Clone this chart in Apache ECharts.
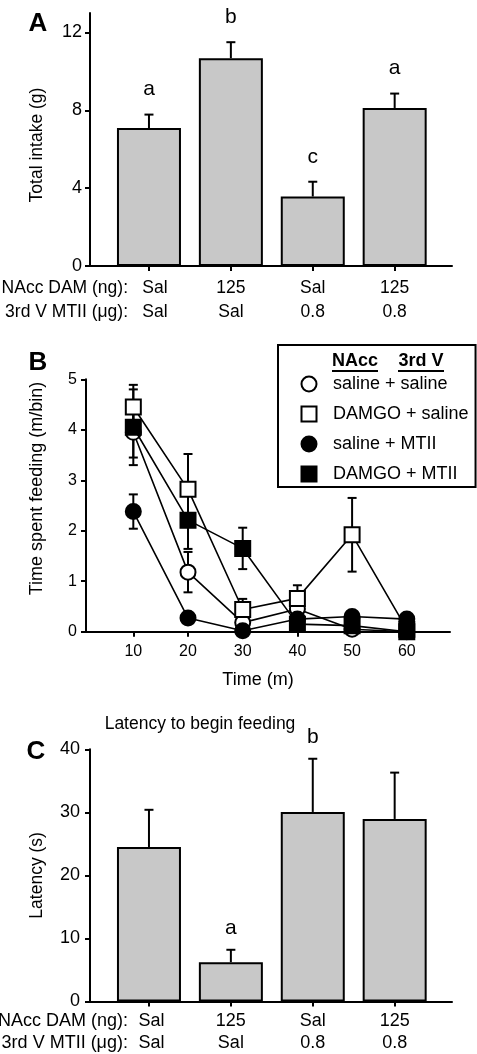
<!DOCTYPE html>
<html><head><meta charset="utf-8">
<script src="https://cdn.jsdelivr.net/npm/echarts@6/dist/echarts.min.js"></script>
<style>html,body{margin:0;padding:0;background:#fff}#c{width:477px;height:1054px}</style>
</head><body><div id="c"></div>
<script>
// ---------- data ----------
const naccLabels = ['Sal', '125', 'Sal', '125'];
const mtiiLabels = ['Sal', 'Sal', '0.8', '0.8'];
const groupPos = [1, 2, 3, 4];

const intakeMean = [7.09, 10.68, 3.57, 8.12];
const intakeSem = [0.69, 0.82, 0.76, 0.74];
const intakeLetters = ['a', 'b', 'c', 'a'];
const intakeTicks = [0, 4, 8, 12];

const timeBins = [10, 20, 30, 40, 50, 60];
const seriesNames = ['saline + saline', 'DAMGO + saline', 'saline + MTII', 'DAMGO + MTII'];
const salSalMean = [3.95, 1.18, 0.18, 0.45, 0.05, 0.00];
const salSalSem  = [0.50, 0.40, 0.10, 0.10, 0.05, 0.00];
const damSalMean = [4.45, 2.82, 0.44, 0.66, 1.92, 0.05];
const damSalSem  = [0.44, 0.70, 0.21, 0.26, 0.73, 0.05];
const salMtMean  = [2.38, 0.27, 0.02, 0.25, 0.30, 0.25];
const salMtSem   = [0.34, 0.08, 0.02, 0.08, 0.05, 0.05];
const damMtMean  = [4.05, 2.21, 1.65, 0.15, 0.12, 0.00];
const damMtSem   = [0.75, 0.57, 0.41, 0.08, 0.05, 0.00];

const latencyMean = [24.5, 6.23, 30.06, 28.95];
const latencySem = [5.9, 1.96, 8.44, 7.35];
const latencyLetters = ['', 'a', 'b', ''];

// ---------- helpers ----------
const FONT = '"Liberation Sans", Arial, Helvetica, sans-serif';
const BLACK = '#000';

function pairs(xs, ys, es) { return xs.map((x, i) => es ? [x, ys[i], es[i]] : [x, ys[i]]); }

function barErrRender(letters, letterOffset, fontSize) {
  return function (params, api) {
    const x = api.value(0), y = api.value(1), e = api.value(2);
    const base = api.coord([x, y]);
    const top = api.coord([x, y + e]);
    const children = [
      { type: 'line', shape: { x1: base[0], y1: base[1], x2: top[0], y2: top[1] }, style: { stroke: BLACK, lineWidth: 2 } },
      { type: 'line', shape: { x1: top[0] - 4.5, y1: top[1], x2: top[0] + 4.5, y2: top[1] }, style: { stroke: BLACK, lineWidth: 2 } }
    ];
    const t = letters[params.dataIndex];
    if (t) {
      children.push({ type: 'text', x: top[0], y: top[1] - letterOffset,
        style: { text: t, fill: BLACK, font: fontSize + 'px ' + FONT, align: 'center', verticalAlign: 'middle', textAlign: 'center', textVerticalAlign: 'middle' } });
    }
    return { type: 'group', children };
  };
}

function symErrRender(params, api) {
  const x = api.value(0), y = api.value(1), e = api.value(2);
  const lo = api.coord([x, y - e]), hi = api.coord([x, y + e]);
  const w = 4.5;
  return { type: 'group', children: [
    { type: 'line', shape: { x1: lo[0], y1: lo[1], x2: hi[0], y2: hi[1] }, style: { stroke: BLACK, lineWidth: 2 } },
    { type: 'line', shape: { x1: lo[0] - w, y1: lo[1], x2: lo[0] + w, y2: lo[1] }, style: { stroke: BLACK, lineWidth: 2 } },
    { type: 'line', shape: { x1: hi[0] - w, y1: hi[1], x2: hi[0] + w, y2: hi[1] }, style: { stroke: BLACK, lineWidth: 2 } }
  ] };
}

function catLabel(v) {
  const i = Math.round(v) - 1;
  if (i < 0 || i > 3) return '';
  const tag = i === 0 ? 'f' : 'n';
  return '{' + tag + '|' + naccLabels[i] + '}\n{' + tag + '|' + mtiiLabels[i] + '}';
}

const axisLine = { show: true, lineStyle: { color: BLACK, width: 2 } };
const tickOut = { show: true, inside: false, length: 5, lineStyle: { color: BLACK, width: 2 } };

function txt(x, y, text, size, opts) {
  opts = opts || {};
  return { type: 'text', x: x, y: y, z: 10,
    style: { text: text, fill: BLACK, font: (opts.bold ? 'bold ' : '') + size + 'px ' + FONT,
      align: opts.align || 'left', textAlign: opts.align || 'left',
      verticalAlign: 'middle', textVerticalAlign: 'middle' } };
}

// ---------- chart ----------
const chart = echarts.init(document.getElementById('c'), null, { renderer: 'canvas' });

const pointStyles = [
  { symbol: 'circle', fill: '#fff' },
  { symbol: 'rect', fill: '#fff' },
  { symbol: 'circle', fill: '#000' },
  { symbol: 'rect', fill: '#000' }
];
const bMeans = [salSalMean, damSalMean, salMtMean, damMtMean];
const bSems = [salSalSem, damSalSem, salMtSem, damMtSem];

const option = {
  animation: false,
  backgroundColor: '#fff',
  textStyle: { fontFamily: FONT, color: BLACK },
  grid: [
    { left: 90, right: 25, top: 13, bottom: 788 },
    { left: 86, right: 27, top: 379.3, bottom: 422.3 },
    { left: 90, right: 25, top: 749.3, bottom: 52.3 }
  ],
  title: [{
    text: 'Latency to begin feeding', left: 200, top: 715, textAlign: 'center', padding: 0,
    textStyle: { fontFamily: FONT, fontSize: 17.5, fontWeight: 'normal', color: BLACK }
  }],
  legend: {
    orient: 'vertical', left: 278, top: 345,
    padding: [30, 7, 4, 22.5],
    itemWidth: 15, itemHeight: 15, itemGap: 12,
    borderColor: BLACK, borderWidth: 2, backgroundColor: '#fff',
    selectedMode: false,
    textStyle: { fontFamily: FONT, fontSize: 18, color: BLACK, padding: [0, 0, 0, 11.5] },
    data: seriesNames.map((n, i) => ({ name: n, icon: pointStyles[i].symbol }))
  },
  xAxis: [
    { gridIndex: 0, type: 'value', min: 0.28, max: 4.7,
      axisLine, axisTick: Object.assign({ customValues: groupPos }, tickOut), splitLine: { show: false },
      axisLabel: { customValues: groupPos, margin: 10.6, color: BLACK, fontFamily: FONT, fontSize: 17.5, lineHeight: 23.4,
        formatter: (v) => catLabel(v),
        rich: { f: { fontFamily: FONT, fontSize: 17.5, lineHeight: 23.4, padding: [0, 0, 0, 12] },
                n: { fontFamily: FONT, fontSize: 17.5, lineHeight: 23.4 } } } },
    { gridIndex: 1, type: 'value', min: 1.35, max: 67.9,
      axisLine, axisTick: Object.assign({ customValues: timeBins }, tickOut), splitLine: { show: false },
      axisLabel: { customValues: timeBins, margin: 12, color: BLACK, fontFamily: FONT, fontSize: 16 },
      name: 'Time (m)', nameLocation: 'middle', nameGap: 39.3,
      nameTextStyle: { fontFamily: FONT, fontSize: 18, color: BLACK, padding: [0, 20, 0, 0] } },
    { gridIndex: 2, type: 'value', min: 0.28, max: 4.7,
      axisLine, axisTick: Object.assign({ customValues: groupPos }, tickOut), splitLine: { show: false },
      axisLabel: { customValues: groupPos, margin: 8, color: BLACK, fontFamily: FONT, fontSize: 18, lineHeight: 22.3,
        formatter: (v) => catLabel(v),
        rich: { f: { fontFamily: FONT, fontSize: 18, lineHeight: 22.3, padding: [0, 0, 0, 5] },
                n: { fontFamily: FONT, fontSize: 18, lineHeight: 22.3 } } } }
  ],
  yAxis: [
    { gridIndex: 0, type: 'value', min: 0, max: 13,
      axisLine, axisTick: Object.assign({ customValues: intakeTicks }, tickOut), splitLine: { show: false },
      axisLabel: { customValues: intakeTicks, margin: 8, color: BLACK, fontFamily: FONT, fontSize: 18 },
      name: 'Total intake (g)', nameLocation: 'middle', nameGap: 44.25,
      nameTextStyle: { fontFamily: FONT, fontSize: 17.5, color: BLACK, padding: [0, 11, 0, 0] } },
    { gridIndex: 1, type: 'value', min: 0, max: 5, interval: 1,
      axisLine, axisTick: tickOut, splitLine: { show: false },
      axisLabel: { margin: 9, color: BLACK, fontFamily: FONT, fontSize: 16 },
      name: 'Time spent feeding (m/bin)', nameLocation: 'middle', nameGap: 40,
      nameTextStyle: { fontFamily: FONT, fontSize: 18, color: BLACK, padding: [0, 0, 0, 34] } },
    { gridIndex: 2, type: 'value', min: 0, max: 40, interval: 10,
      axisLine, axisTick: tickOut, splitLine: { show: false },
      axisLabel: { margin: 10, color: BLACK, fontFamily: FONT, fontSize: 18 },
      name: 'Latency (s)', nameLocation: 'middle', nameGap: 44,
      nameTextStyle: { fontFamily: FONT, fontSize: 17.5, color: BLACK } }
  ],
  series: [
    // Panel A
    { type: 'bar', xAxisIndex: 0, yAxisIndex: 0, barWidth: 64, data: pairs(groupPos, intakeMean),
      itemStyle: { color: '#c8c8c8', borderColor: BLACK, borderWidth: 2 }, z: 2 },
    { type: 'custom', xAxisIndex: 0, yAxisIndex: 0, data: pairs(groupPos, intakeMean, intakeSem),
      renderItem: barErrRender(intakeLetters, 25, 21), z: 3, clip: false },
    // Panel B error bars
    ...bMeans.map((m, i) => ({
      type: 'custom', xAxisIndex: 1, yAxisIndex: 1, data: pairs(timeBins, m, bSems[i]),
      renderItem: symErrRender, z: 1, clip: false
    })),
    // Panel B lines
    ...bMeans.map((m, i) => ({
      type: 'line', name: seriesNames[i], xAxisIndex: 1, yAxisIndex: 1, data: pairs(timeBins, m),
      symbol: pointStyles[i].symbol, symbolSize: 15, z: 2 + i * 0.1,
      itemStyle: { color: pointStyles[i].fill, borderColor: BLACK, borderWidth: 2 },
      lineStyle: { color: BLACK, width: 1.6 }
    })),
    // Panel C
    { type: 'bar', xAxisIndex: 2, yAxisIndex: 2, barWidth: 64, data: pairs(groupPos, latencyMean),
      itemStyle: { color: '#c8c8c8', borderColor: BLACK, borderWidth: 2 }, z: 2 },
    { type: 'custom', xAxisIndex: 2, yAxisIndex: 2, data: pairs(groupPos, latencyMean, latencySem),
      renderItem: barErrRender(latencyLetters, 22, 21), z: 3, clip: false }
  ],
  graphic: [
    txt(38, 24, 'A', 26, { bold: true, align: 'center' }),
    txt(38, 362.5, 'B', 26, { bold: true, align: 'center' }),
    txt(36, 752, 'C', 26, { bold: true, align: 'center' }),
    txt(128, 288.3, 'NAcc DAM (ng):', 17.5, { align: 'right' }),
    txt(128, 311.7, '3rd V MTII (\u03bcg):', 17.5, { align: 'right' }),
    txt(128, 1020.7, 'NAcc DAM (ng):', 18, { align: 'right' }),
    txt(128, 1043, '3rd V MTII (\u03bcg):', 18, { align: 'right' }),
    txt(355, 360.7, 'NAcc', 18, { bold: true, align: 'center' }),
    txt(421, 360.7, '3rd V', 18, { bold: true, align: 'center' }),
    { type: 'line', z: 10, shape: { x1: 332, y1: 371, x2: 378, y2: 371 }, style: { stroke: BLACK, lineWidth: 2 } },
    { type: 'line', z: 10, shape: { x1: 398, y1: 371, x2: 444, y2: 371 }, style: { stroke: BLACK, lineWidth: 2 } }
  ]
};
chart.setOption(option);
</script></body></html>
